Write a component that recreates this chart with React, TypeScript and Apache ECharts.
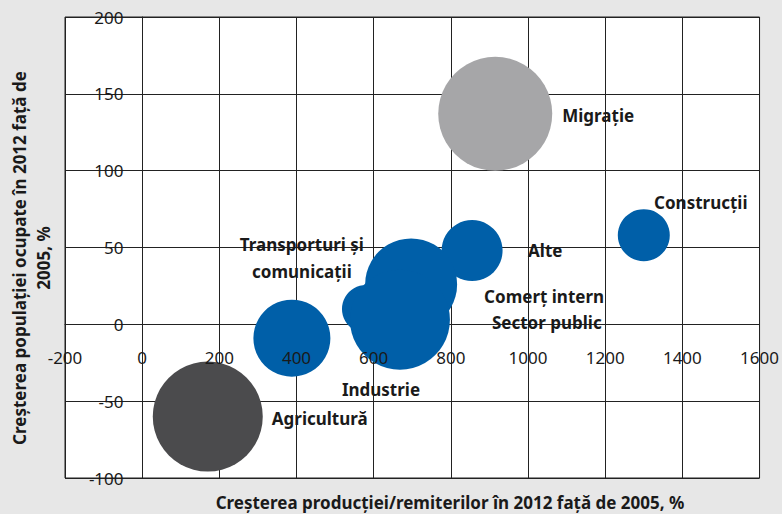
import React, { useEffect, useRef } from "react";
import * as echarts from "echarts";

const names = [
  "Agricultură",
  "Migrație",
  "Construcții",
  "Alte",
  "Transporturi și\ncomunicații",
  "Industrie",
  "Comerț intern",
  "Sector public",
];
const outputGrowth = [170, 915, 1300, 855, 388, 580, 697, 668];
const employmentGrowth = [-60, 137, 58, 48, -9, 10, 26, 3];
const bubbleDiameter = [110, 114, 52, 61, 77, 48, 92, 100];
const groups = ["agri", "migr", "blue", "blue", "blue", "blue", "blue", "blue"];

const xTicks = { min: -200, max: 1600, interval: 200 };
const yTicks = { min: -100, max: 200, interval: 50 };

const xTitle = "Creșterea producției/remiterilor în 2012 față de 2005, %";
const yTitle = "Creșterea populației ocupate în 2012 față de\n2005, %";

const colors: Record<string, string> = {
  agri: "#4b4b4d",
  migr: "#a6a6a8",
  blue: "#005fa8",
};

// label placement relative to bubble centre: [align, dx, dy]
const labelPlacement: [string, number, number][] = [
  ["left", 64, 2],
  ["left", 67, 2],
  ["center", 57, -33],
  ["left", 56, 0],
  ["center", 10, -80],
  ["center", 15, 81],
  ["left", 73, 12],
  ["left", 92, 3],
];

const FONT = "'Noto Sans', sans-serif";

const GRID = { left: 65, top: 17, right: 19, bottom: 36 };
const W = 782;
const H = 514;

export default function App() {
  const ref = useRef<HTMLDivElement>(null);
  useEffect(() => {
    document.body.style.margin = "0";
    const chart = echarts.init(ref.current!, null, { renderer: "svg" });
    const gridW = W - GRID.left - GRID.right;
    const gridH = H - GRID.top - GRID.bottom;
    // place axes at the origin (axes cross at zero)
    const xAxisOffset = -gridH * (0 - yTicks.min) / (yTicks.max - yTicks.min);
    const yAxisOffset = -gridW * (0 - xTicks.min) / (xTicks.max - xTicks.min);
    const data = names.map((n, i) => ({
      name: n,
      value: [outputGrowth[i], employmentGrowth[i], bubbleDiameter[i]],
      itemStyle: { color: colors[groups[i]], opacity: 1 },
      label: {
        show: true,
        position: "inside",
        formatter: "{b}",
        align: labelPlacement[i][0],
        verticalAlign: "middle",
        offset: [labelPlacement[i][1], labelPlacement[i][2]],
        color: "#1a1a1a",
        fontFamily: FONT,
        fontWeight: "bold",
        fontSize: 17,
        lineHeight: 27,
      },
    }));
    const tickLabel = {
      fontSize: 17,
      color: "#1a1a1a",
      fontFamily: FONT,
      formatter: (v: number) => String(v),
    };
    chart.setOption({
      animation: false,
      backgroundColor: "#e7e7e7",
      textStyle: { fontFamily: FONT },
      grid: {
        ...GRID,
        show: true,
        backgroundColor: "#ffffff",
        borderColor: "#222",
        borderWidth: 1,
      },
      xAxis: [
        {
          type: "value",
          position: "bottom",
          offset: xAxisOffset,
          min: xTicks.min,
          max: xTicks.max,
          interval: xTicks.interval,
          axisLine: { show: true, onZero: false, lineStyle: { color: "#222", width: 1 } },
          axisTick: { show: false },
          axisLabel: { show: false },
          splitLine: { show: true, lineStyle: { color: "#222", width: 1 } },
        },
        {
          type: "value",
          position: "bottom",
          offset: xAxisOffset,
          z: 10,
          min: xTicks.min,
          max: xTicks.max,
          interval: xTicks.interval,
          axisLine: { show: false, onZero: false },
          axisTick: { show: false },
          axisLabel: { margin: 25, ...tickLabel },
          splitLine: { show: false },
        },
      ],
      yAxis: {
        type: "value",
        position: "left",
        offset: yAxisOffset,
        min: yTicks.min,
        max: yTicks.max,
        interval: yTicks.interval,
        axisLine: { show: true, onZero: false, lineStyle: { color: "#222", width: 1 } },
        axisTick: { show: false },
        axisLabel: { margin: 19, ...tickLabel },
        splitLine: { show: true, lineStyle: { color: "#222", width: 1 } },
      },
      graphic: [
        {
          type: "text",
          x: 450,
          y: 502,
          style: {
            text: xTitle,
            fontFamily: FONT,
            fontWeight: "bold",
            fontSize: 17,
            fill: "#1a1a1a",
            textAlign: "center",
            textVerticalAlign: "middle",
          },
        },
        {
          type: "text",
          x: 31,
          y: 258,
          rotation: Math.PI / 2,
          style: {
            text: yTitle,
            fontFamily: FONT,
            fontWeight: "bold",
            fontSize: 17,
            lineHeight: 24,
            fill: "#1a1a1a",
            textAlign: "center",
            textVerticalAlign: "middle",
          },
        },
      ],
      series: [
        {
          type: "scatter",
          xAxisIndex: 0,
          data,
          symbol: "circle",
          symbolSize: (v: number[]) => v[2],
          emphasis: { disabled: true },
        },
      ],
    });
    return () => chart.dispose();
  }, []);
  return (
    <div
      ref={ref}
      style={{ position: "absolute", left: 0, top: 0, width: W, height: H }}
    />
  );
}
